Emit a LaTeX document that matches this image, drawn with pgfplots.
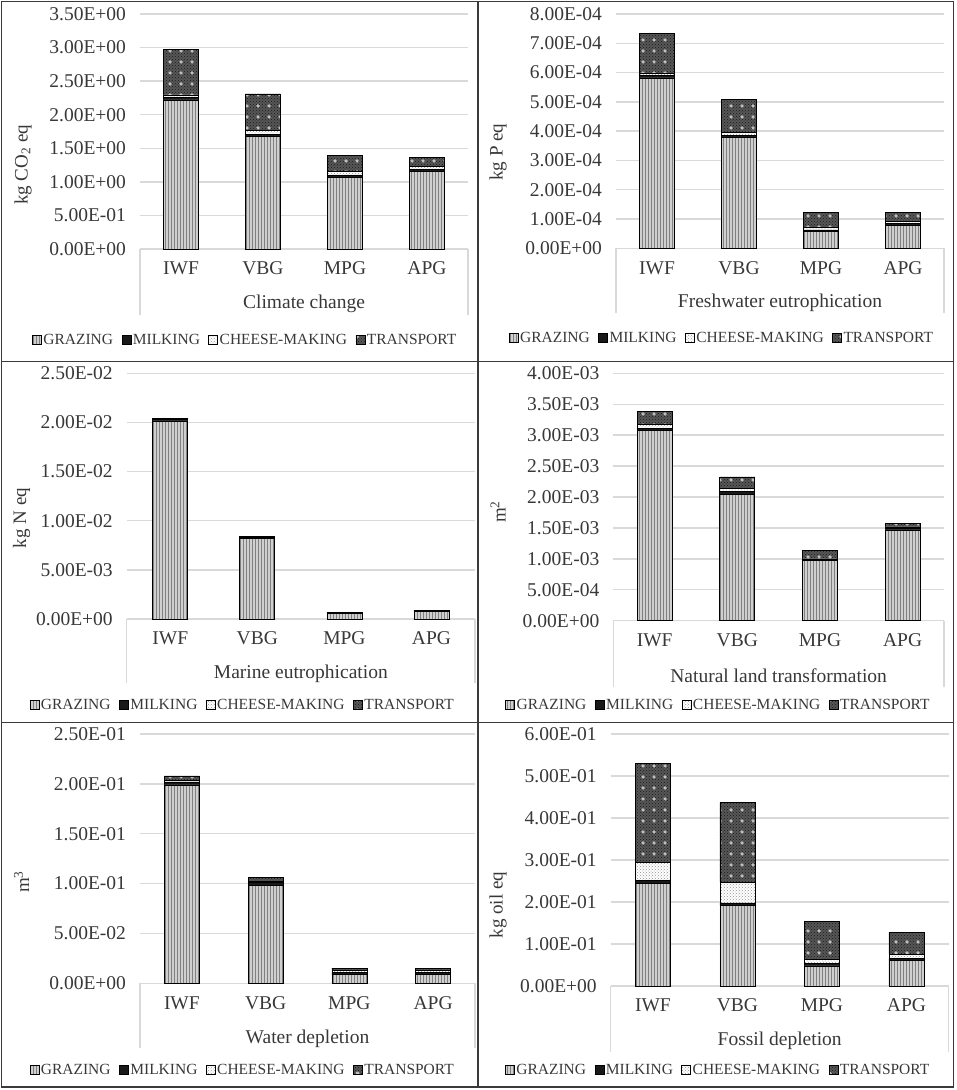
\documentclass[border=0pt]{standalone}
\usepackage{pgfplots}
\pgfplotsset{compat=1.18}
\usetikzlibrary{patterns}
\usepackage{fontspec}
\setmainfont{Liberation Serif}
\definecolor{gridgray}{HTML}{D9D9D9}
\definecolor{txt}{HTML}{383838}
\definecolor{frame}{HTML}{3A3A3A}
\pgfdeclarepatternformonly{bigdots}{\pgfqpoint{0pt}{0pt}}{\pgfqpoint{11pt}{11pt}}{\pgfqpoint{11pt}{11pt}}{%
  \pgfpathcircle{\pgfqpoint{5.5pt}{5.5pt}}{2pt}\pgfusepath{fill}}
\tikzset{
 grazing/.style={draw=black, line width=0.7pt, preaction={fill=gray!38}, pattern=vertical lines, pattern color=black!50},
 milking/.style={draw=black, line width=0.7pt, fill=black!90},
 cheese/.style={draw=black, line width=0.7pt, preaction={fill=white}, pattern=crosshatch dots, pattern color=gray!85},
 transport/.style={draw=black, line width=0.7pt, preaction={fill=black!66}, preaction={pattern=crosshatch dots, pattern color=black!90}, pattern=bigdots, pattern color=gray!50},
}
\pgfplotsset{
 panel/.style={
   scale only axis, ybar stacked, bar width=35pt,
   xmin=-0.5, xmax=3.5, ymin=0, xtick={0,1,2,3}, xticklabels={IWF,VBG,MPG,APG},
   axis line style={draw=none}, major tick length=0pt,
   ymajorgrids, major grid style={draw=gridgray, line width=1.4pt},
   scaled y ticks=false, clip=false,
   yticklabel style={font=\fontsize{19.5}{21}\selectfont, text=txt, xshift=-10.5pt},
   xticklabel style={font=\fontsize{19.5}{21}\selectfont, text=txt, yshift=-9.5pt},
   xlabel style={font=\fontsize{19.5}{21}\selectfont, text=txt, at={(axis description cs:0.5,0)}, anchor=center, yshift=-55pt},
   legend columns=4,
   legend image code/.code={\draw[##1] (0pt,-4.5pt) rectangle (9pt,4.5pt);},
   legend style={draw=none, fill=none, font=\fontsize{15.5}{17}\selectfont, text=txt,
     at={(axis description cs:0,0)}, anchor=center, inner sep=0pt,
     /tikz/every even column/.append style={column sep=7pt}, nodes={inner sep=1.5pt}},
 }
}
\newcommand{\boxlines}[1]{%
  \draw[gridgray, line width=1.4pt] (axis description cs:0,0) -- ++(0pt,-#1);
  \draw[gridgray, line width=1.4pt] (axis description cs:1,0) -- ++(0pt,-#1);}
\begin{document}
\begin{tikzpicture}
\useasboundingbox (0,0) rectangle (957pt,-1090pt);
\begin{scope}[frame, line width=1.8pt]
\draw (1.5pt,-1.5pt) rectangle (953.5pt,-1087pt);
\draw (477.7pt,-1.5pt) -- (477.7pt,-1087pt);
\draw (1.5pt,-361.5pt) -- (953.5pt,-361.5pt);
\draw (1.5pt,-722.5pt) -- (953.5pt,-722.5pt);
\end{scope}
\tikzset{ylab/.style={rotate=90, font=\fontsize{19}{21}\selectfont, text=txt}}

% Panel 1: Climate change
\begin{axis}[panel, at={(140pt,-249pt)}, anchor=south west, width=328pt, height=235pt,
  ymax=3.5, ytick={0,0.5,1,1.5,2,2.5,3,3.5},
  yticklabels={0.00E+00,5.00E-01,1.00E+00,1.50E+00,2.00E+00,2.50E+00,3.00E+00,3.50E+00},
  xlabel={Climate change}, legend style={xshift=105pt, yshift=-91pt}]
\addplot[grazing] coordinates {(0,2.22) (1,1.68) (2,1.06) (3,1.16)};
\addplot[milking] coordinates {(0,0.035) (1,0.03) (2,0.03) (3,0.02)};
\addplot[cheese] coordinates {(0,0.04) (1,0.06) (2,0.06) (3,0.05)};
\addplot[transport] coordinates {(0,0.68) (1,0.54) (2,0.24) (3,0.14)};
\legend{GRAZING,MILKING,CHEESE-MAKING,TRANSPORT}
\boxlines{66pt}
\end{axis}
\node[ylab] at (23pt,-165pt) {kg CO\textsubscript{2} eq};

% Panel 2: Freshwater eutrophication
\begin{axis}[panel, at={(616pt,-248.3pt)}, anchor=south west, width=328pt, height=234.3pt,
  ymax=8e-4, ytick={0,1e-4,2e-4,3e-4,4e-4,5e-4,6e-4,7e-4,8e-4},
  yticklabels={0.00E+00,1.00E-04,2.00E-04,3.00E-04,4.00E-04,5.00E-04,6.00E-04,7.00E-04,8.00E-04},
  xlabel={Freshwater eutrophication}, legend style={xshift=105.7pt, yshift=-89.7pt}]
\addplot[grazing] coordinates {(0,5.82e-4) (1,3.79e-4) (2,0.57e-4) (3,0.78e-4)};
\addplot[milking] coordinates {(0,0.07e-4) (1,0.07e-4) (2,0.06e-4) (3,0.06e-4)};
\addplot[cheese] coordinates {(0,0.07e-4) (1,0.09e-4) (2,0.07e-4) (3,0.07e-4)};
\addplot[transport] coordinates {(0,1.38e-4) (1,1.14e-4) (2,0.53e-4) (3,0.305e-4)};
\legend{GRAZING,MILKING,CHEESE-MAKING,TRANSPORT}
\boxlines{65pt}
\end{axis}
\node[ylab] at (498pt,-152pt) {kg P eq};

% Panel 3: Marine eutrophication
\begin{axis}[panel, at={(126.7pt,-619pt)}, anchor=south west, width=348.3pt, height=245.7pt,
  ymax=0.025, ytick={0,0.005,0.01,0.015,0.02,0.025},
  yticklabels={0.00E+00,5.00E-03,1.00E-02,1.50E-02,2.00E-02,2.50E-02},
  xlabel={Marine eutrophication}, legend style={xshift=115.8pt, yshift=-86pt}]
\addplot[grazing] coordinates {(0,20.15e-3) (1,8.2e-3) (2,0.6e-3) (3,0.78e-3)};
\addplot[milking] coordinates {(0,0.2e-3) (1,0.12e-3) (2,0.08e-3) (3,0.07e-3)};
\addplot[cheese] coordinates {(0,0.02e-3) (1,0.02e-3) (2,0.01e-3) (3,0.01e-3)};
\addplot[transport] coordinates {(0,0.03e-3) (1,0.03e-3) (2,0.02e-3) (3,0.02e-3)};
\legend{GRAZING,MILKING,CHEESE-MAKING,TRANSPORT}
\boxlines{64pt}
\end{axis}
\node[ylab] at (21.7pt,-518pt) {kg N eq};

% Panel 4: Natural land transformation
\begin{axis}[panel, at={(613.3pt,-620.7pt)}, anchor=south west, width=330.7pt, height=247.4pt,
  ymax=4e-3, ytick={0,5e-4,1e-3,1.5e-3,2e-3,2.5e-3,3e-3,3.5e-3,4e-3},
  yticklabels={0.00E+00,5.00E-04,1.00E-03,1.50E-03,2.00E-03,2.50E-03,3.00E-03,3.50E-03,4.00E-03},
  xlabel={Natural land transformation}, legend style={xshift=105pt, yshift=-84.3pt}]
\addplot[grazing] coordinates {(0,3.07e-3) (1,2.045e-3) (2,0.97e-3) (3,1.467e-3)};
\addplot[milking] coordinates {(0,0.04e-3) (1,0.04e-3) (2,0.02e-3) (3,0.03e-3)};
\addplot[cheese] coordinates {(0,0.06e-3) (1,0.06e-3) (2,0.01e-3) (3,0.02e-3)};
\addplot[transport] coordinates {(0,0.22e-3) (1,0.18e-3) (2,0.13e-3) (3,0.053e-3)};
\legend{GRAZING,MILKING,CHEESE-MAKING,TRANSPORT}
\boxlines{66pt}
\end{axis}
\node[ylab] at (498pt,-512pt) {m\textsuperscript{2}};

% Panel 5: Water depletion
\begin{axis}[panel, at={(140pt,-983.3pt)}, anchor=south west, width=335pt, height=249.3pt,
  ymax=0.25, ytick={0,0.05,0.1,0.15,0.2,0.25},
  yticklabels={0.00E+00,5.00E-02,1.00E-01,1.50E-01,2.00E-01,2.50E-01},
  xlabel={Water depletion}, legend style={xshift=102.5pt, yshift=-86.7pt}]
\addplot[grazing] coordinates {(0,0.199) (1,0.098) (2,0.0085) (3,0.0085)};
\addplot[milking] coordinates {(0,0.003) (1,0.003) (2,0.0025) (3,0.0025)};
\addplot[cheese] coordinates {(0,0.0015) (1,0.0015) (2,0.0015) (3,0.0015)};
\addplot[transport] coordinates {(0,0.0045) (1,0.0035) (2,0.0025) (3,0.0028)};
\legend{GRAZING,MILKING,CHEESE-MAKING,TRANSPORT}
\boxlines{65pt}
\end{axis}
\node[ylab] at (21.7pt,-882pt) {m\textsuperscript{3}};

% Panel 6: Fossil depletion
\begin{axis}[panel, at={(610.7pt,-986pt)}, anchor=south west, width=338pt, height=252pt,
  ymax=0.6, ytick={0,0.1,0.2,0.3,0.4,0.5,0.6},
  yticklabels={0.00E+00,1.00E-01,2.00E-01,3.00E-01,4.00E-01,5.00E-01,6.00E-01},
  xlabel={Fossil depletion}, legend style={xshift=107.3pt, yshift=-84pt}]
\addplot[grazing] coordinates {(0,0.245) (1,0.192) (2,0.048) (3,0.061)};
\addplot[milking] coordinates {(0,0.006) (1,0.006) (2,0.005) (3,0.005)};
\addplot[cheese] coordinates {(0,0.044) (1,0.049) (2,0.011) (3,0.0095)};
\addplot[transport] coordinates {(0,0.234) (1,0.19) (2,0.089) (3,0.0525)};
\legend{GRAZING,MILKING,CHEESE-MAKING,TRANSPORT}
\boxlines{65.7pt}
\end{axis}
\node[ylab] at (498pt,-905pt) {kg oil eq};
\end{tikzpicture}
\end{document}
